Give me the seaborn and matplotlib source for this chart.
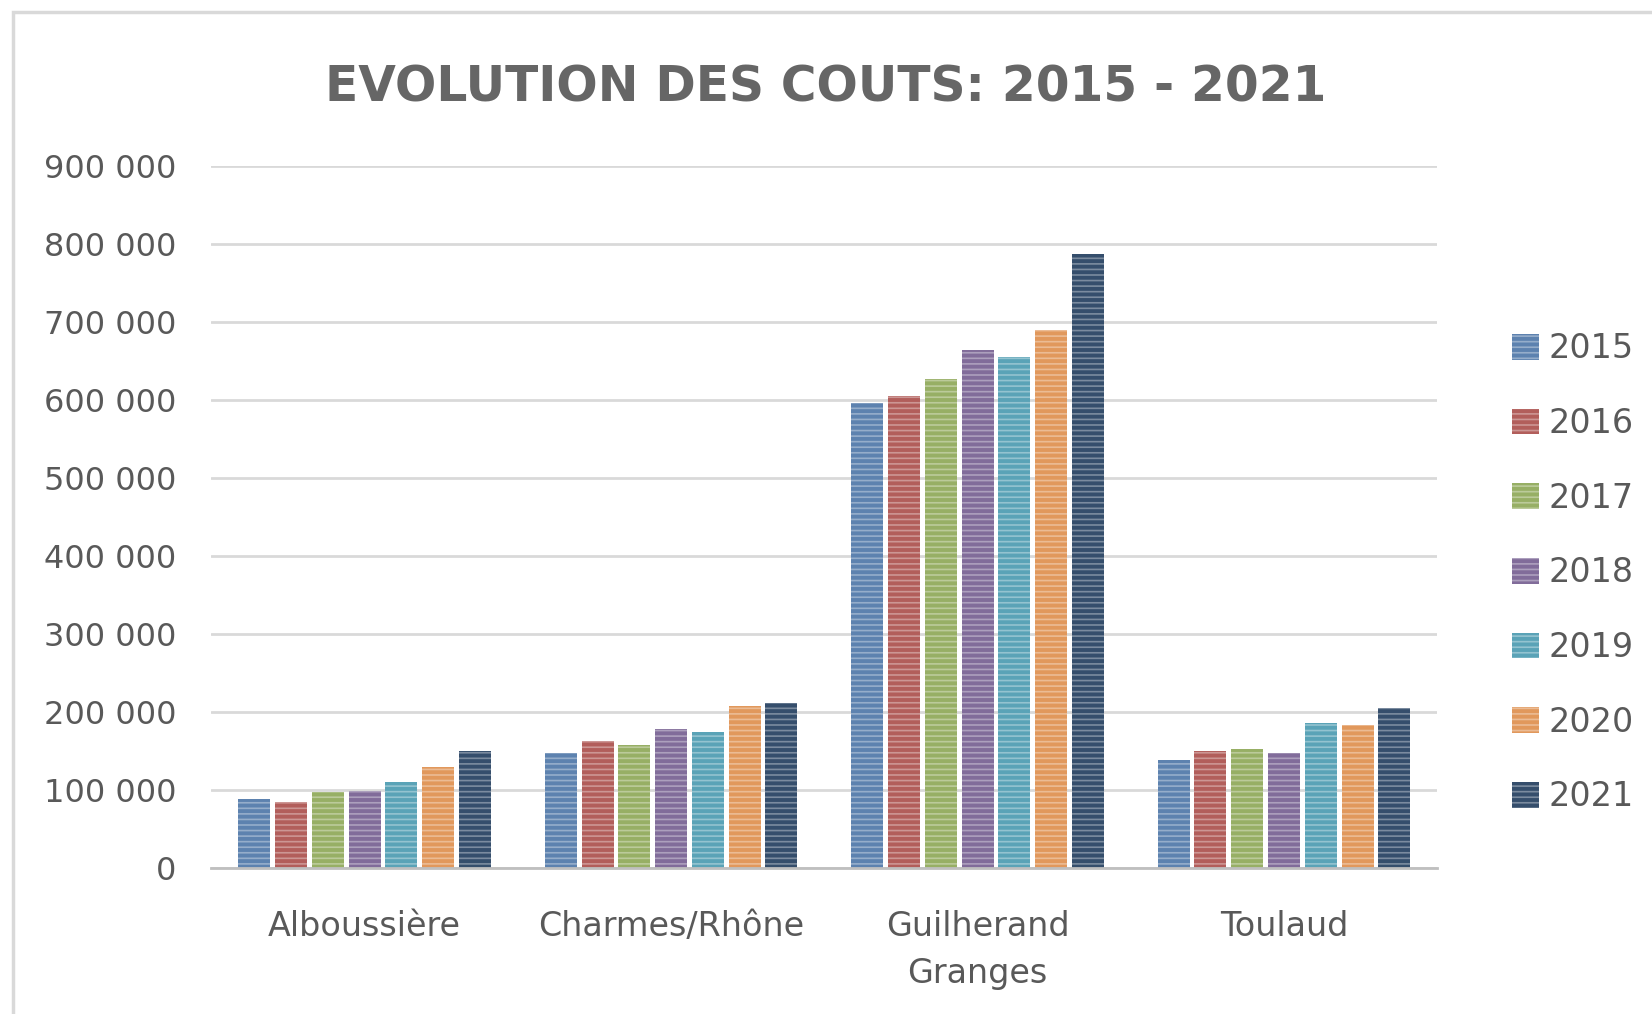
import pandas as pd
import matplotlib
matplotlib.use('Agg')
import matplotlib.pyplot as plt
import seaborn as sns
from matplotlib.ticker import FuncFormatter
from matplotlib.patches import Rectangle

# Data
communes = ['Alboussière', 'Charmes/Rhône', 'Guilherand\nGranges', 'Toulaud']
years = ['2015', '2016', '2017', '2018', '2019', '2020', '2021']

couts_2015 = [89000, 148000, 597000, 139000]
couts_2016 = [85000, 163000, 606000, 150000]
couts_2017 = [97000, 158000, 627000, 153000]
couts_2018 = [99000, 178000, 665000, 147000]
couts_2019 = [110000, 174000, 656000, 186000]
couts_2020 = [129000, 208000, 690000, 183000]
couts_2021 = [150000, 211000, 788000, 205000]

colors = ['#4F81BD', '#C0504D', '#9BBB59', '#8064A2', '#4BACC6', '#F79646', '#2C4D75']

series = [couts_2015, couts_2016, couts_2017, couts_2018, couts_2019, couts_2020, couts_2021]
rows = []
for year, vals in zip(years, series):
    for commune, v in zip(communes, vals):
        rows.append({'Commune': commune, 'Annee': year, 'Cout': v})
df = pd.DataFrame(rows)

sns.set_style('white')
plt.rcParams['font.family'] = ['DejaVu Sans']
plt.rcParams['hatch.linewidth'] = 1.2

fig = plt.figure(figsize=(16.52, 10.14), dpi=100)
ax = fig.add_axes([0.128, 0.144, 0.742, 0.692])

sns.barplot(data=df, x='Commune', y='Cout', hue='Annee', palette=colors,
            width=0.84, gap=0.13, ax=ax, legend=True)

# Excel-like striped texture
for bar in ax.patches:
    bar.set_hatch('---')
    bar.set_edgecolor((1, 1, 1, 0.35))
    bar.set_linewidth(0)

ax.set_ylim(0, 900000)
ax.set_yticks(range(0, 900001, 100000))
ax.yaxis.set_major_formatter(FuncFormatter(lambda v, p: f"{int(v):,}".replace(',', ' ')))
ax.grid(axis='y', color='#D9D9D9', linewidth=2)
ax.set_axisbelow(True)
for s in ['top', 'right', 'left']:
    ax.spines[s].set_visible(False)
ax.spines['bottom'].set_color('#BFBFBF')
ax.spines['bottom'].set_linewidth(2)
ax.tick_params(axis='y', length=0, labelsize=23, colors='#595959', pad=25)
ax.tick_params(axis='x', length=0, labelsize=24, colors='#595959', pad=30)
for lab in ax.get_xticklabels():
    lab.set_linespacing(1.55)
ax.set_xlabel('')
ax.set_ylabel('')

handles, labels = ax.get_legend_handles_labels()
ax.get_legend().remove()
fig.legend(handles, labels, loc='center left', bbox_to_anchor=(0.897, 0.435),
           frameon=False, fontsize=24, labelspacing=1.25, handlelength=0.8,
           handleheight=0.8, handletextpad=0.3, labelcolor='#595959')

fig.suptitle('EVOLUTION DES COUTS: 2015 - 2021', y=0.937, fontsize=35,
             fontweight='bold', color='#666666')

# chart frame
fig.patches.append(Rectangle((0.008, -0.02), 1.05, 1.008, transform=fig.transFigure,
                             fill=False, edgecolor='#D9D9D9', linewidth=2.5))

fig.savefig('out.png', dpi=100, facecolor='white')
